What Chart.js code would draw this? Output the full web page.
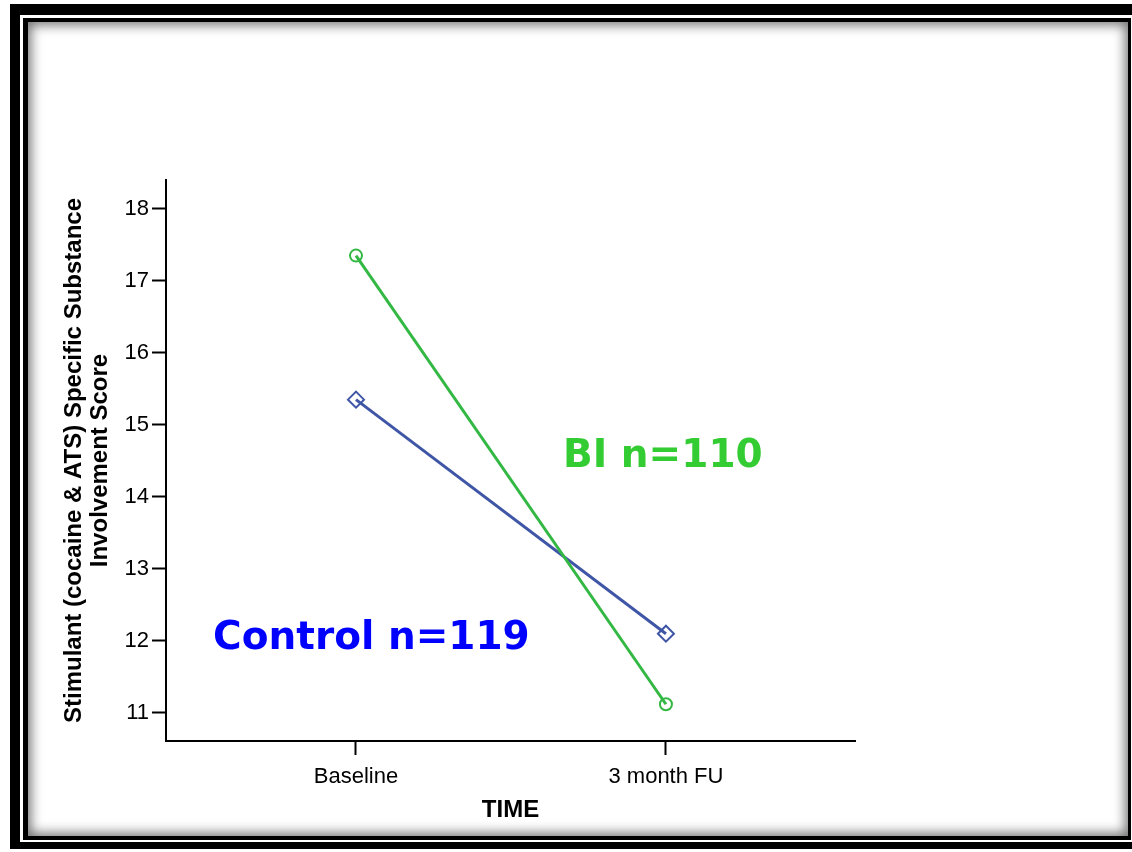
<!DOCTYPE html>
<html>
<head>
<meta charset="utf-8">
<script src="https://cdn.jsdelivr.net/npm/chart.js@4.4.1/dist/chart.umd.min.js"></script>
<style>
  html, body { margin: 0; padding: 0; background: #fff; }
  body { width: 1132px; height: 852px; position: relative; overflow: hidden; }
  .frame { position: absolute; }
  #outer { left: 10px; top: 4px; right: -6px; bottom: 3px; background: #000; }
  #gap { left: 20px; top: 15px; right: -2px; bottom: 10px; background: #fff; }
  #inner { left: 23px; top: 18px; right: 1px; bottom: 12px; background: #000; }
  #panel { left: 28px; top: 22px; right: 4px; bottom: 16px; background: #fff;
           box-shadow: inset 0 0 12px 3px rgba(0,0,0,0.55); }
  #wrap { position: absolute; left: 0; top: 0; width: 1132px; height: 852px; }
  canvas { display: block; }
</style>
</head>
<body>
<div class="frame" id="outer"></div>
<div class="frame" id="gap"></div>
<div class="frame" id="inner"></div>
<div class="frame" id="panel"></div>
<div id="wrap"><canvas id="scoreChart" width="1132" height="852"></canvas></div>
<script>
const timeLabels = ["Baseline", "3 month FU"];
const timePositions = [1, 2];
const biScores = [17.35, 11.12];
const controlScores = [15.35, 12.1];
const yTicks = [11, 12, 13, 14, 15, 16, 17, 18];

// where the group captions sit, in data units
const biCaption = { text: "BI n=110", x: 1.668, y: 14.56, color: "#33cc33" };
const controlCaption = { text: "Control n=119", x: 0.539, y: 12.03, color: "#0000ff" };

const toPoints = (vals) => vals.map((v, i) => ({ x: timePositions[i], y: v }));

const captionPlugin = {
  id: "captions",
  afterDatasetsDraw(chart) {
    const { ctx, scales } = chart;
    ctx.save();
    ctx.font = "bold 39px 'DejaVu Sans'";
    ctx.textBaseline = "middle";
    ctx.textAlign = "left";
    [biCaption, controlCaption].forEach((c) => {
      ctx.fillStyle = c.color;
      ctx.fillText(c.text, scales.x.getPixelForValue(c.x), scales.y.getPixelForValue(c.y));
    });
    ctx.restore();
  }
};

const axisGrid = {
  display: true,
  drawOnChartArea: false,
  drawTicks: true,
  tickLength: 14,
  tickColor: "#000",
  tickWidth: 2
};

const ctx = document.getElementById("scoreChart").getContext("2d");
const chart = new Chart(ctx, {
  type: "line",
  data: {
    datasets: [
      {
        label: "BI",
        data: toPoints(biScores),
        borderColor: "#33b844",
        borderWidth: 3,
        pointStyle: "circle",
        pointRadius: 6,
        pointBorderWidth: 2,
        pointBorderColor: "#33b844",
        pointBackgroundColor: "rgba(0,0,0,0)"
      },
      {
        label: "Control",
        data: toPoints(controlScores),
        borderColor: "#3f55a6",
        borderWidth: 3,
        pointStyle: "rectRot",
        pointRadius: 8,
        pointBorderWidth: 2,
        pointBorderColor: "#3f55a6",
        pointBackgroundColor: "rgba(0,0,0,0)"
      }
    ]
  },
  options: {
    responsive: false,
    animation: false,
    devicePixelRatio: 1,
    layout: { padding: { left: 0, top: 180, right: 277, bottom: 0 } },
    plugins: { legend: { display: false }, tooltip: { enabled: false } },
    scales: {
      x: {
        type: "linear",
        min: 0.387,
        max: 2.61,
        grid: axisGrid,
        border: { display: true, color: "#000", width: 2 },
        afterBuildTicks: (scale) => { scale.ticks = timePositions.map((v) => ({ value: v })); },
        afterFit: (scale) => { scale.height = 111; },
        ticks: {
          color: "#000",
          padding: 9,
          autoSkip: false,
          maxRotation: 0,
          font: { family: "'Liberation Sans', Arial", size: 22 },
          callback: (v) => timeLabels[timePositions.indexOf(v)]
        },
        title: {
          display: true,
          text: "TIME",
          color: "#000",
          font: { family: "'Liberation Sans', Arial", size: 24, weight: "bold" },
          padding: { top: 0, bottom: 27 }
        }
      },
      y: {
        type: "linear",
        min: 10.61,
        max: 18.4,
        grid: axisGrid,
        border: { display: true, color: "#000", width: 2 },
        afterBuildTicks: (scale) => { scale.ticks = yTicks.map((v) => ({ value: v })); },
        afterFit: (scale) => { scale.width = 166; },
        ticks: {
          color: "#000",
          padding: 3,
          font: { family: "'Liberation Sans', Arial", size: 22 }
        },
        title: {
          display: true,
          text: ["Stimulant (cocaine & ATS) Specific Substance", "Involvement Score"],
          color: "#000",
          font: { family: "'Liberation Sans', Arial", size: 24, weight: "bold", lineHeight: 1.1 },
          padding: { top: 61, bottom: 0 }
        }
      }
    }
  },
  plugins: [captionPlugin]
});
</script>
</body>
</html>
